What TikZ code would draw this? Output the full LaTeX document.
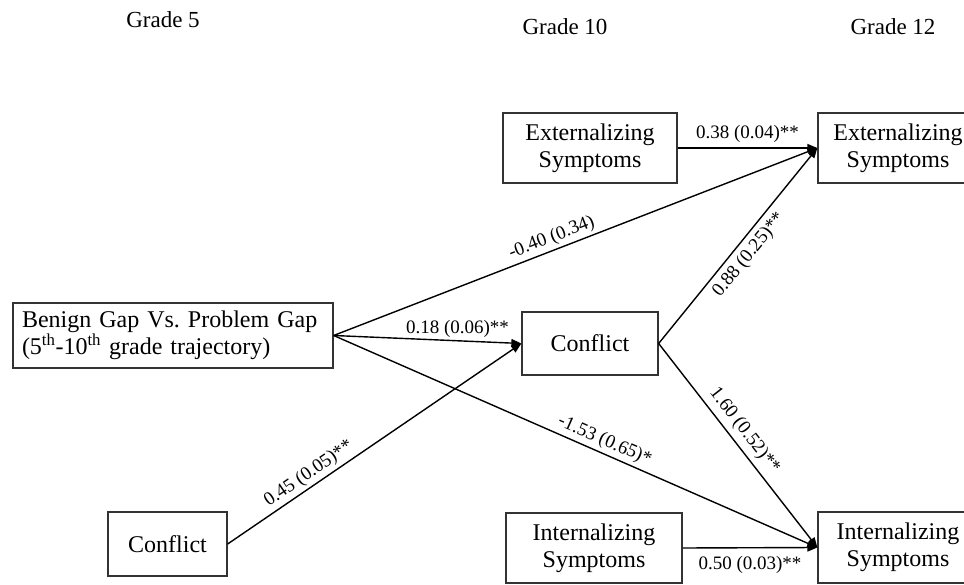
\documentclass[tikz,border=0pt]{standalone}
\usepackage{fontspec}
\setmainfont{Liberation Serif}
\usetikzlibrary{arrows.meta}
\frenchspacing
\begin{document}
\begin{tikzpicture}[x=1pt,y=-1pt,
  box/.style={draw=black!80,line width=1.3pt,inner sep=0pt,align=center,
    font=\fontsize{24}{27}\selectfont},
  head/.style={anchor=base,font=\fontsize{23}{27}\selectfont},
  arr/.style={line width=1.4pt,-{Triangle[length=10pt,width=8pt]}},
  lab/.style={font=\fontsize{19}{22}\selectfont,inner sep=3pt}]
\clip (0,0) rectangle (964,585);
\fill[white] (0,0) rectangle (964,585);
% headers
\node[head] (g5) at (163,28) {Grade 5};
\node[head] (g10) at (565,35) {Grade 10};
\node[head] (g12) at (893,35) {Grade 12};
% boxes
\node[box,minimum width=174pt,minimum height=70pt] (ext10) at (590,148) {Externalizing\\Symptoms};
\node[box,minimum width=160pt,minimum height=70pt] (ext12) at (898,148) {Externalizing\\Symptoms};
\node[box,minimum width=136pt,minimum height=63pt] (con10) at (590,343.5) {Conflict};
\node[box,minimum width=320pt,minimum height=65pt,text width=302pt,align=left,inner xsep=9pt] (gap) at (173,335.5)
  {Benign Gap Vs. Problem Gap\\(5\textsuperscript{th}-10\textsuperscript{th} grade trajectory)};
\node[box,minimum width=119pt,minimum height=64pt] (con5) at (167.5,544) {Conflict};
\node[box,minimum width=176pt,minimum height=70pt] (int10) at (594,548) {Internalizing\\Symptoms};
\node[box,minimum width=160pt,minimum height=71pt] (int12) at (898,547.5) {Internalizing\\Symptoms};
% paths
\draw[arr] (ext10.east) -- (ext12.west) node[lab,midway,above=2pt] {0.38 (0.04)**};
\draw[arr] (gap.east) -- (ext12.west) node[lab,pos=0.46,above,sloped] {-0.40 (0.34)};
\draw[arr] (gap.east) -- (con10.west) node[lab,pos=0.66,above] {0.18 (0.06)**};
\draw[arr] (gap.east) -- (int12.west) node[lab,pos=0.55,above,sloped] {-1.53 (0.65)*};
\draw[arr] (con5.east) -- (con10.west) node[lab,pos=0.3,above,sloped] {0.45 (0.05)**};
\draw[arr] (con10.east) -- (ext12.west) node[lab,pos=0.5,below=2pt,sloped] {0.88 (0.25)**};
\draw[arr] (con10.east) -- (int12.west) node[lab,pos=0.47,above=2pt,sloped] {1.60 (0.52)**};
\draw[arr] (int10.east) -- (int12.west) node[lab,midway,below=5pt] {0.50 (0.03)**};
\end{tikzpicture}
\end{document}
